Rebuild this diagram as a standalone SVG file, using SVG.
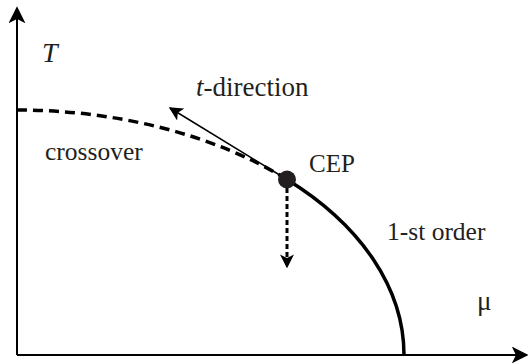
<svg xmlns="http://www.w3.org/2000/svg" width="528" height="364" viewBox="0 0 528 364">
<defs>
<marker id="ahBig" viewBox="0 0 10 10" refX="9" refY="5" markerWidth="17" markerHeight="17" markerUnits="userSpaceOnUse" orient="auto">
<path d="M0,0 L10,5 L0,10 L2.5,5 Z" fill="#000"/>
</marker>
<marker id="ahMid" viewBox="0 0 10 10" refX="9" refY="5" markerWidth="14" markerHeight="14" markerUnits="userSpaceOnUse" orient="auto">
<path d="M0,0 L10,5 L0,10 L2.5,5 Z" fill="#000"/>
</marker>
</defs>
<g id="connectors" fill="none" stroke="#000">
<path d="M17,355 L17,8" stroke-width="2" marker-end="url(#ahBig)"/>
<path d="M17,355 L527,355" stroke-width="2" marker-end="url(#ahBig)"/>
<path id="crossover-line" d="M17,110 A387,245 0 0 1 287,179.5" stroke-width="3.5" stroke-dasharray="10,6"/>
<path id="first-order-line" d="M287,179.5 A387,245 0 0 1 404,355" stroke-width="3.5"/>
<path id="t-direction-arrow" d="M287,179.5 L170,108" stroke-width="1.5" marker-end="url(#ahMid)"/>
<path id="down-arrow" d="M287,188 L287,267" stroke-width="3" stroke-dasharray="5,3" marker-end="url(#ahMid)"/>
</g>
<g id="CEP">
<circle cx="287" cy="179.5" r="9" fill="#231f20"/>
<text x="309" y="172" fill="#231f20" font-family="'Liberation Serif'" font-size="25">CEP</text>
</g>
<g id="labels" fill="#231f20" font-family="'Liberation Serif'">
<text x="42" y="62" font-style="italic" font-size="28">T</text>
<text x="196" y="96" font-size="27"><tspan font-style="italic">t</tspan>-direction</text>
<text x="45" y="160" font-size="25.5">crossover</text>
<text x="387" y="240" font-size="25.5">1-st order</text>
<text x="477" y="310" font-size="27">&#956;</text>
</g>
</svg>
